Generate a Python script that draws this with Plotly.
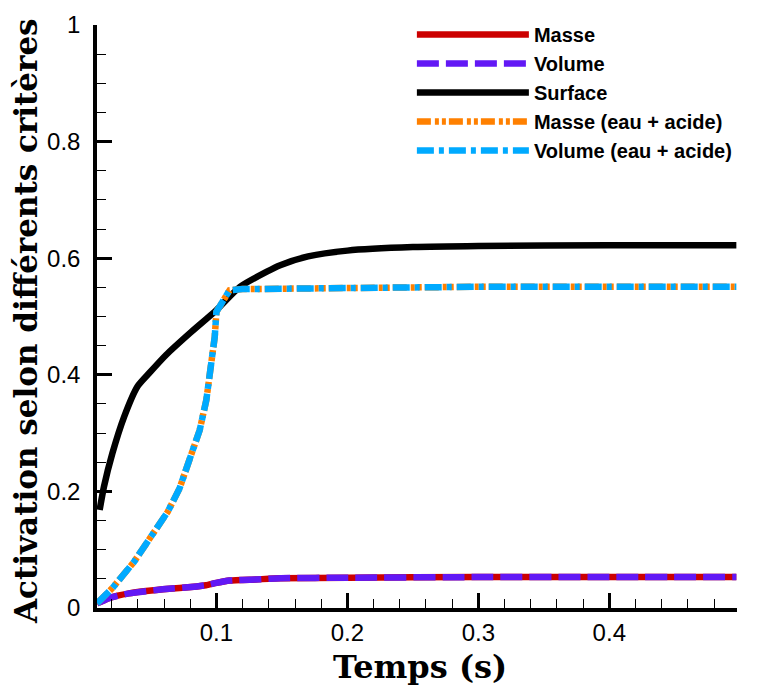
import plotly.graph_objects as go

# Data
x_surface = [0.0108, 0.0141, 0.0205, 0.0295, 0.0397, 0.0487, 0.0615, 0.0795, 0.1, 0.118, 0.1385, 0.1487, 0.17, 0.2, 0.25, 0.3, 0.4, 0.497]
y_surface = [0.168, 0.208, 0.265, 0.328, 0.380, 0.403, 0.434, 0.471, 0.511, 0.551, 0.577, 0.588, 0.603, 0.613, 0.619, 0.621, 0.622, 0.622]

x_eau = [0.0088, 0.0205, 0.037, 0.05, 0.0628, 0.0718, 0.0808, 0.0872, 0.0923, 0.0962, 0.0987, 0.1, 0.105, 0.110, 0.120, 0.2, 0.3, 0.4, 0.497]
y_masse_eau = [0.008, 0.034, 0.079, 0.12, 0.165, 0.205, 0.26, 0.305, 0.357, 0.42, 0.465, 0.508, 0.528, 0.545, 0.547, 0.550, 0.551, 0.551, 0.551]
y_volume_eau = [0.008, 0.034, 0.079, 0.12, 0.165, 0.205, 0.26, 0.305, 0.357, 0.42, 0.465, 0.508, 0.528, 0.545, 0.547, 0.550, 0.551, 0.551, 0.551]

x_masse = [0.0088, 0.018, 0.0333, 0.059, 0.085, 0.092, 0.1, 0.11, 0.13, 0.149, 0.2, 0.3, 0.4, 0.497]
y_masse = [0.008, 0.017, 0.025, 0.032, 0.037, 0.039, 0.043, 0.047, 0.049, 0.051, 0.052, 0.053, 0.053, 0.053]
y_volume = [0.008, 0.017, 0.025, 0.032, 0.037, 0.039, 0.043, 0.047, 0.049, 0.051, 0.052, 0.053, 0.053, 0.053]

x_ticks = [0.1, 0.2, 0.3, 0.4]
y_ticks = [0, 0.2, 0.4, 0.6, 0.8, 1]
y_ticklabels = ["0", "0.2", "0.4", "0.6", "0.8", "1"]

x_title = "Temps (s)"
y_title = "Activation selon différents critères"

LW = 6.5
fig = go.Figure()
fig.add_trace(go.Scatter(x=x_masse, y=y_masse, mode="lines", name="Masse",
                         line=dict(color="#cc0000", width=LW, shape="spline", smoothing=0.5)))
fig.add_trace(go.Scatter(x=x_masse, y=y_volume, mode="lines", name="Volume",
                         line=dict(color="#6218f5", width=LW, dash="22px,7px", shape="spline", smoothing=0.5)))
fig.add_trace(go.Scatter(x=x_surface, y=y_surface, mode="lines", name="Surface",
                         line=dict(color="#000000", width=LW, shape="spline", smoothing=0.6)))
fig.add_trace(go.Scatter(x=x_eau, y=y_masse_eau, mode="lines", name="Masse (eau + acide)",
                         line=dict(color="#ff8000", width=LW, dash="14px,4px,4px,3px,4px,3px")))
fig.add_trace(go.Scatter(x=x_eau, y=y_volume_eau, mode="lines", name="Volume (eau + acide)",
                         line=dict(color="#00aaff", width=LW, dash="17px,5px,5px,5px")))

tickfont = dict(family="Liberation Sans, Arial", size=24, color="black")

fig.update_layout(
    width=760, height=681,
    margin=dict(l=89, r=31, t=17, b=81, autoexpand=False),
    paper_bgcolor="white", plot_bgcolor="white",
    showlegend=True,
    legend=dict(x=0.492, y=1.017, xanchor="left", yanchor="top",
                bgcolor="rgba(0,0,0,0)",
                font=dict(family="Liberation Sans", size=20, color="black", weight="bold"),
                itemwidth=112, tracegroupgap=0),
    xaxis=dict(range=[0.0088, 0.4975], tickvals=x_ticks, ticktext=[str(v) for v in x_ticks],
               ticks="inside", ticklen=15, tickwidth=2.5, tickcolor="black",
               minor=dict(dtick=0.02, tick0=0, ticks="inside", ticklen=9, tickwidth=1, tickcolor="black"),
               showline=True, linewidth=3.5, linecolor="black", showgrid=False, zeroline=False,
               tickfont=tickfont, automargin=False, ticklabelstandoff=0),
    yaxis=dict(range=[0, 1], tickvals=y_ticks, ticktext=y_ticklabels,
               ticks="inside", ticklen=15, tickwidth=2.5, tickcolor="black",
               minor=dict(dtick=0.05, tick0=0, ticks="inside", ticklen=9, tickwidth=1, tickcolor="black"),
               showline=True, linewidth=3.5, linecolor="black", showgrid=False, zeroline=False,
               tickfont=tickfont, automargin=False, ticklabelstandoff=8),
    annotations=[
        dict(text=x_title, xref="paper", yref="paper", x=0.5047, y=-0.102,
             xanchor="center", yanchor="middle", showarrow=False,
             font=dict(family="DejaVu Serif", size=32, color="black", weight="bold")),
        dict(text=y_title, xref="paper", yref="paper", x=-0.111, y=0.4923,
             xanchor="center", yanchor="middle", showarrow=False, textangle=-90,
             font=dict(family="DejaVu Serif", size=31, color="black", weight="bold")),
    ],
)

fig.write_html("out.html")
